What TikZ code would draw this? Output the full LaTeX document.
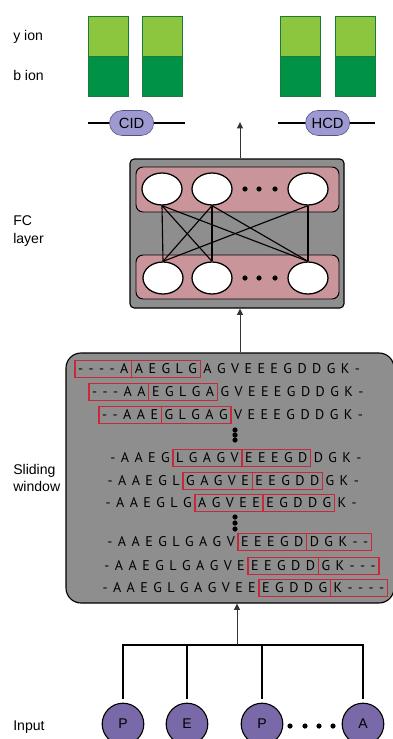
\documentclass[tikz,border=0pt]{standalone}
\usepackage{fontspec}
\setmainfont{Liberation Sans}
\newfontfamily\seqfont[LetterSpace=12]{PT Sans}
\usepackage{tikz}
\usetikzlibrary{arrows.meta,positioning,shapes.geometric,shapes.misc,calc}
\definecolor{ylight}{HTML}{8CC63F}
\definecolor{bdark}{HTML}{009245}
\definecolor{gborder}{HTML}{1C7A3C}
\definecolor{pillfill}{HTML}{9C9AD0}
\definecolor{pillline}{HTML}{55508A}
\definecolor{panelgray}{HTML}{8E8E8E}
\definecolor{bandpink}{HTML}{C9959A}
\definecolor{winred}{HTML}{C8283A}
\definecolor{aapurple}{HTML}{7A69A8}
\tikzset{
  lbl/.style={anchor=west,align=left,inner sep=0pt,font=\fontsize{10}{12.5}\selectfont},
  yion/.style={draw=gborder,fill=ylight,minimum width=1cm,minimum height=1cm,line width=0.6pt,inner sep=0pt,outer sep=0pt},
  bion/.style={yion,fill=bdark},
  frag/.style={draw=pillline,fill=pillfill,rounded rectangle,minimum width=1.175cm,minimum height=0.625cm,inner sep=1pt,font=\fontsize{10.5}{12}\selectfont},
  panel/.style={draw,fill=panelgray,line width=0.8pt},
  band/.style={draw,fill=bandpink,rounded corners=5pt,line width=0.7pt},
  neuron/.style={draw,fill=white,ellipse,minimum width=1cm,minimum height=0.8cm,line width=0.9pt},
  dotc/.style={circle,fill=black,inner sep=0pt,minimum size=1.3mm},
  link/.style={line width=0.8pt},
  res/.style={font=\seqfont\fontsize{10}{12}\selectfont,inner xsep=2.3pt,inner ysep=0pt,outer sep=0pt,text height=7pt,text depth=0pt,minimum height=0.43cm},
  win/.style={res,draw=winred,line width=0.9pt},
  aa/.style={circle,draw,fill=aapurple,minimum size=1.04cm,inner sep=0pt,line width=0.8pt,font=\fontsize{10}{12}\selectfont},
  arr/.style={-{Triangle[length=1.6mm,width=1.5mm]},line width=0.6pt,draw=black!80},
  bus/.style={line width=2pt},
}
\begin{document}
\begin{tikzpicture}
\useasboundingbox (0,0) rectangle (9.825,-18.475);
% fragment ions
\node[lbl] (ylab) at (0.325,-0.925) {y ion};
\node[lbl] (blab) at (0.325,-1.875) {b ion};
\foreach \x [count=\i] in {2.7,4.0625,7.5,8.875} {
  \node[yion] (yb\i) at (\x,-0.9) {};
  \node[bion,below=0pt of yb\i] (bb\i) {};
}
\coordinate (cidl) at (2.2,-3.075);
\coordinate (cidr) at (4.625,-3.075);
\coordinate (hcdl) at (6.95,-3.075);
\coordinate (hcdr) at (9.375,-3.075);
\draw[bus] (cidl) -- (cidr);
\draw[bus] (hcdl) -- (hcdr);
\node[frag] (cid) at (3.29,-3.075) {CID};
\node[frag] (hcd) at (8.19,-3.075) {HCD};
\coordinate (out) at (6,-3.05);

% FC layer
\node[lbl] (fclab) at (0.325,-5.78) {FC\\layer};
\node[panel,rounded corners=3pt,minimum width=5.35cm,minimum height=3.725cm] (fc) at (5.925,-5.8375) {};
\node[band,minimum width=5.075cm,minimum height=1.125cm] (upper) at (5.9375,-4.7375) {};
\node[band,minimum width=5.075cm,minimum height=1.1cm] (lower) at (5.9375,-6.925) {};
\node[neuron] (u1) at (4.05,-4.725) {};
\node[neuron] (u2) at (5.3,-4.725) {};
\node[neuron] (u3) at (7.7,-4.725) {};
\node[neuron] (l1) at (4.075,-6.95) {};
\node[neuron] (l2) at (5.3,-6.95) {};
\node[neuron] (l3) at (7.7,-6.95) {};
\foreach \x [count=\i] in {6.125,6.475,6.875} {
  \node[dotc] (udot\i) at (\x,-4.725) {};
  \node[dotc] (ldot\i) at (\x,-6.95) {};
}
\foreach \a/\b in {u1/l1,u1/l2,u1/l3,u2/l1,u2/l2,u2/l3,u3/l1,u3/l3}
  \draw[link] (\a.south) -- (\b.north);
\draw[arr] (fc.north -| out) -- (out);

% sliding window
\node[lbl] (swlab) at (0.325,-11.95) {Sliding\\window};
\node[panel,rounded corners=0.375cm,minimum width=8.2cm,minimum height=6.25cm] (slide) at (5.75,-11.95) {};
\foreach \n/\y/\x/\pre/\wa/\wb/\post in {
  1/-9.225/1.875/{}/{- - - - A}/{A E G L G}/{A G V E E E G D D G K -},
  2/-9.8/2.225/{}/{- - - A A}/{E G L G A}/{G V E E E G D D G K -},
  3/-10.375/2.475/{}/{- - A A E}/{G L G A G}/{V E E E G D D G K -},
  4/-11.45/4.325/{- A A E G}/{L G A G V}/{E E E G D}/{D G K -},
  5/-12.025/4.575/{- A A E G L}/{G A G V E}/{E E G D D}/{G K -},
  6/-12.575/4.875/{- A A E G L G}/{A G V E E}/{E G D D G}/{K -},
  7/-13.55/5.95/{- A A E G L G A G V}/{E E E G D}/{D G K - -}/{},
  8/-14.15/6.2/{- A A E G L G A G V E}/{E E G D D}/{G K - - -}/{},
  9/-14.7/6.475/{- A A E G L G A G V E E}/{E G D D G}/{K - - - -}/{}} {
  \node[win,anchor=west] (wa\n) at (\x,\y) {\wa};
  \node[win,right=0pt of wa\n] (wb\n) {\wb};
  \node[res,left=0pt of wa\n] (pre\n) {\pre};
  \node[res,right=0pt of wb\n] (post\n) {\post};
}
\foreach \y [count=\i] in {-10.75,-10.875,-11.0} \node[dotc] (sdot\i) at (5.875,\y) {};
\foreach \y [count=\i] in {-12.925,-13.075,-13.225} \node[dotc] (tdot\i) at (5.875,\y) {};
\draw[arr] (slide.north -| out) -- (fc.south -| out);

% input
\node[lbl] (inlab) at (0.325,-18.175) {Input};
\node[aa] (p1) at (3.075,-18.1) {P};
\node[aa] (e1) at (4.675,-18.1) {E};
\node[aa] (p2) at (6.55,-18.1) {P};
\node[aa] (a1) at (9.075,-18.1) {A};
\foreach \x [count=\i] in {7.25,7.625,7.975,8.325} \node[dotc] (idot\i) at (\x,-18.15) {};
\coordinate (hub) at (5.925,-16.125);
\draw[bus] ([yshift=1mm]p1.north) |- (hub) -| ([yshift=1mm]a1.north);
\foreach \n in {e1,p2} \draw[bus] ([yshift=1mm]\n.north) -- (\n.north |- hub);
\draw[arr] (hub) -- (hub |- slide.south);
\end{tikzpicture}
\end{document}
